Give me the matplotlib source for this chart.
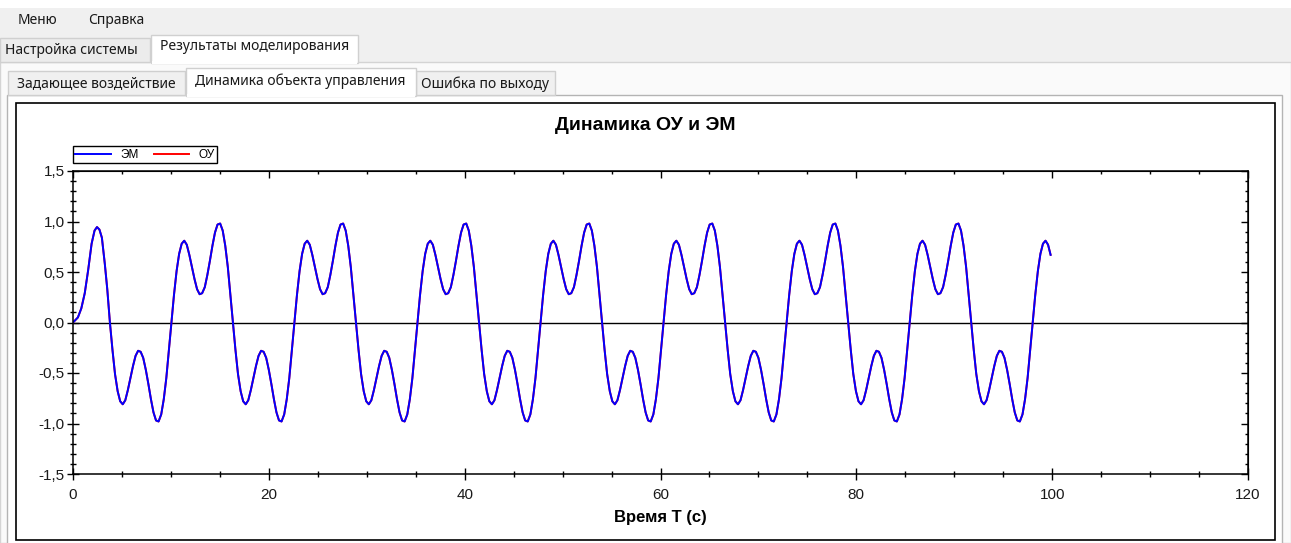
import matplotlib
matplotlib.use("Agg")
import matplotlib.pyplot as plt
from matplotlib.patches import Rectangle
from matplotlib.ticker import MultipleLocator, NullFormatter

W, H = 1291, 543
CHART_FONT = "Liberation Sans"   # Arial look-alike (ZedGraph)
UI_FONT = "Noto Sans"            # Segoe UI look-alike

# --- data -------------------------------------------------------------------
# start-up transient, t = 0 .. first zero crossing
start_t = [0.0, 0.5, 0.85, 1.2, 1.55, 1.9, 2.2, 2.45, 2.7, 2.95, 3.25, 3.5]
start_y = [0.0, 0.05, 0.14, 0.29, 0.52, 0.78, 0.91, 0.945, 0.92, 0.84, 0.58, 0.33]

# one steady period, measured from a downward zero crossing
cycle_dt = [0.00, 0.26, 0.52, 0.79, 1.05, 1.31, 1.57, 1.83, 2.09, 2.36, 2.62, 2.88,
            3.14, 3.40, 3.67, 3.93, 4.19, 4.45, 4.71, 4.97, 5.24, 5.50, 5.76, 6.02,
            6.28, 6.54, 6.81, 7.07, 7.33, 7.59, 7.85, 8.11, 8.38, 8.64, 8.90, 9.16,
            9.42, 9.69, 9.95, 10.21, 10.47, 10.73, 10.99, 11.26, 11.52, 11.78, 12.04, 12.30]
cycle_y = [0.00, -0.27, -0.51, -0.68, -0.78, -0.81, -0.77, -0.67, -0.55, -0.43, -0.33, -0.28,
           -0.29, -0.35, -0.47, -0.61, -0.76, -0.89, -0.97, -0.98, -0.91, -0.76, -0.55, -0.28,
           0.00, 0.27, 0.51, 0.68, 0.78, 0.81, 0.77, 0.67, 0.55, 0.43, 0.33, 0.28,
           0.29, 0.35, 0.47, 0.61, 0.76, 0.89, 0.97, 0.98, 0.91, 0.76, 0.55, 0.28]

# downward zero crossings seen on the time axis (s)
cycle_start = [3.77, 16.33, 28.90, 41.47, 54.03, 66.60, 79.17, 91.73]
t_end = 100.0

x_ticks = [0, 20, 40, 60, 80, 100, 120]
y_ticks = [-1.5, -1.0, -0.5, 0.0, 0.5, 1.0, 1.5]
y_labels = ["-1,5", "-1,0", "-0,5", "0,0", "0,5", "1,0", "1,5"]
series = ["ЭМ", "ОУ"]

t = list(start_t)
y = list(start_y)
for s in cycle_start:
    for d, v in zip(cycle_dt, cycle_y):
        if s + d <= t_end:
            t.append(s + d)
            y.append(v)

fig = plt.figure(figsize=(W / 100, H / 100), dpi=100)
fig.patch.set_facecolor("white")

# --- window chrome (pixel coordinates) ---------------------------------------
bg = fig.add_axes([0, 0, 1, 1], zorder=0)
bg.set_xlim(0, W); bg.set_ylim(H, 0); bg.axis("off")

def box(x0, y0, x1, y1, fc, ec="none", lw=1.0):
    bg.add_patch(Rectangle((x0, y0), x1 - x0, y1 - y0, fc=fc, ec=ec, lw=lw))

box(0, 8, W, 62, "#f0f0f0")
box(0, 62, W, H, "#fafafa", "#d4d4d4")
box(0, 38, 150, 62, "#ececec", "#d0d0d0")
box(151, 35, 358, 63, "white", "#d0d0d0")
box(151.6, 61, 357.4, 64, "white")
box(7, 95, 1282, H + 5, "white", "#b4b4b4")
box(8, 71, 185, 95, "#f0f0f0", "#cfcfcf")
box(416, 71, 555, 95, "#f0f0f0", "#cfcfcf")
box(186, 68, 416, 96, "white", "#cfcfcf")
box(186.6, 94, 415.4, 97, "white")
box(16, 102.5, 1275, 540, "white", "black", 1.2)

ui = dict(family=UI_FONT, fontsize=10, color="#1a1a1a", va="center", ha="left")
bg.text(18, 20, "Меню", **ui)
bg.text(88, 20, "Справка", **ui)
bg.text(5, 50, "Настройка системы", **ui)
bg.text(160, 47, "Результаты моделирования", **ui)
bg.text(17, 84, "Задающее воздействие", **ui)
bg.text(195, 81, "Динамика объекта управления", **ui)
bg.text(421, 84, "Ошибка по выходу", **ui)
bg.text(645, 126, "Динамика ОУ и ЭМ", family=CHART_FONT, fontsize=14,
        fontweight="bold", ha="center", va="center")

# --- chart -------------------------------------------------------------------
ax = fig.add_axes([73 / W, 1 - 474 / H, 1175 / W, 303 / H], zorder=1)
ax.set_facecolor("white")
ou, = ax.plot(t, y, color="#ff0000", lw=1.4, label=series[1])
em, = ax.plot(t, y, color="#0000ff", lw=1.4, label=series[0])
ax.axhline(0, color="black", lw=1.0, zorder=1)

ax.set_xlim(0, 120)
ax.set_ylim(-1.5, 1.5)
ax.set_xticks(x_ticks)
ax.set_yticks(y_ticks)
ax.set_yticklabels(y_labels)
ax.xaxis.set_minor_locator(MultipleLocator(5))
ax.yaxis.set_minor_locator(MultipleLocator(0.1))
ax.tick_params(which="both", direction="inout", top=False, right=False,
               width=1.0, labelsize=11, labelcolor="#1a1a1a")
ax.tick_params(which="major", length=8)
ax.tick_params(which="minor", length=4)
ax.tick_params(axis="x", pad=6)
ax.tick_params(axis="y", pad=2)
for lab in ax.get_xticklabels() + ax.get_yticklabels():
    lab.set_family(CHART_FONT)
for sp in ax.spines.values():
    sp.set_linewidth(1.1)

top = ax.secondary_xaxis("top")
top.set_xticks(x_ticks)
top.xaxis.set_minor_locator(MultipleLocator(5))
top.xaxis.set_major_formatter(NullFormatter())
top.tick_params(which="both", direction="in", width=1.0)
top.tick_params(which="major", length=5)
top.tick_params(which="minor", length=2.5)

right = ax.secondary_yaxis("right")
right.set_yticks(y_ticks)
right.yaxis.set_minor_locator(MultipleLocator(0.1))
right.yaxis.set_major_formatter(NullFormatter())
right.tick_params(which="both", direction="in", width=1.0)
right.tick_params(which="major", length=5)
right.tick_params(which="minor", length=2.5)

ax.set_xlabel("Время Т (с)", family=CHART_FONT, fontsize=12,
              fontweight="bold", labelpad=6)

leg = ax.legend(handles=[em, ou], ncol=2, loc="lower left",
                bbox_to_anchor=(0, 1.026), borderaxespad=0, fancybox=False,
                prop={"family": CHART_FONT, "size": 8.5}, handlelength=3.0,
                handletextpad=0.8, columnspacing=1.3, borderpad=0.2,
                framealpha=1, edgecolor="black")
leg.get_frame().set_linewidth(1.0)

fig.savefig("out.png", dpi=100)
